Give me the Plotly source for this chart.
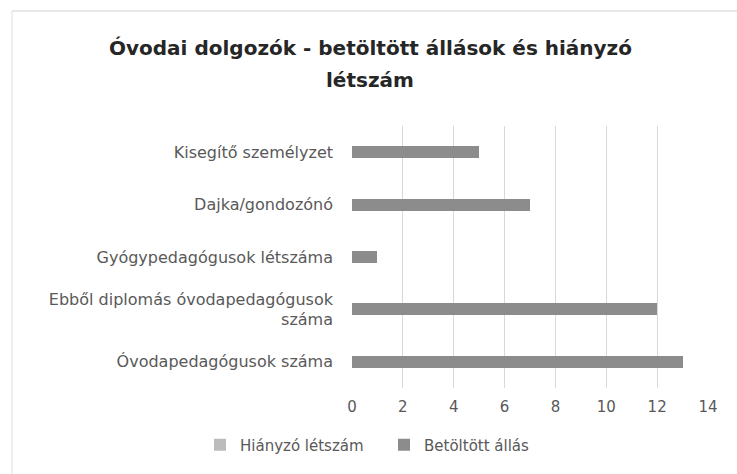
import plotly.graph_objects as go

categories = [
    "Óvodapedagógusok száma",
    "Ebből diplomás óvodapedagógusok<br>száma",
    "Gyógypedagógusok létszáma",
    "Dajka/gondozónó",
    "Kisegítő személyzet",
]
betoltott = [13, 12, 1, 7, 5]
hianyzo = [0, 0, 0, 0, 0]
x_ticks = [0, 2, 4, 6, 8, 10, 12, 14]
title_lines = ["Óvodai dolgozók - betöltött állások és hiányzó", "létszám"]

W, H = 737, 474
L, R, T, B = 352, 29, 126, 86
pw, ph = W - L - R, H - T - B

def px(x):
    return (x - L) / pw

def py(y):
    return (H - B - y) / ph

fig = go.Figure()
fig.add_trace(go.Bar(
    y=categories, x=hianyzo, orientation="h", name="Hiányzó létszám",
    marker=dict(color="#bcbcbc", line=dict(width=0)),
))
fig.add_trace(go.Bar(
    y=categories, x=betoltott, orientation="h", name="Betöltött állás",
    marker=dict(color="#8c8c8c", line=dict(width=0)),
))

title_font = dict(family="DejaVu Sans", size=20, color="#262626", weight="bold")
annotations = [
    dict(text=title_lines[0], xref="paper", yref="paper", x=px(370), y=py(48),
         xanchor="center", yanchor="middle", showarrow=False, font=title_font),
    dict(text=title_lines[1], xref="paper", yref="paper", x=px(370), y=py(80),
         xanchor="center", yanchor="middle", showarrow=False, font=title_font),
]

fig.update_layout(
    width=W, height=H,
    barmode="stack", bargap=0.77,
    paper_bgcolor="white", plot_bgcolor="white",
    margin=dict(l=L, r=R, t=T, b=B, autoexpand=False),
    font=dict(family="DejaVu Sans", color="#595959", size=15),
    annotations=annotations,
    xaxis=dict(
        range=[0, 14], tickvals=x_ticks, ticktext=[str(v) for v in x_ticks],
        showgrid=True, gridcolor="#d9d9d9", gridwidth=1, automargin=False,
        zeroline=False, showline=False, ticks="", ticklabelstandoff=8,
        tickfont=dict(size=15, color="#595959"),
    ),
    yaxis=dict(
        showgrid=False, zeroline=False, showline=False, ticks="", automargin=False,
        ticklabelstandoff=18, tickfont=dict(size=16, color="#595959"),
    ),
    legend=dict(
        orientation="h", x=px(200), xanchor="left", y=py(445), yanchor="middle",
        traceorder="normal", font=dict(size=15, color="#595959"),
        itemwidth=30, entrywidth=139, entrywidthmode="pixels",
    ),
    shapes=[
        dict(type="line", xref="paper", yref="paper", x0=px(12), x1=px(737), y0=py(11), y1=py(11),
             line=dict(color="#cfcfcf", width=1)),
        dict(type="line", xref="paper", yref="paper", x0=px(12), x1=px(12), y0=py(11), y1=py(474),
             line=dict(color="#e0e0e0", width=1)),
    ],
)

fig.write_html("out.html", config={"displayModeBar": False},
               post_script="document.body.style.margin='0';")
